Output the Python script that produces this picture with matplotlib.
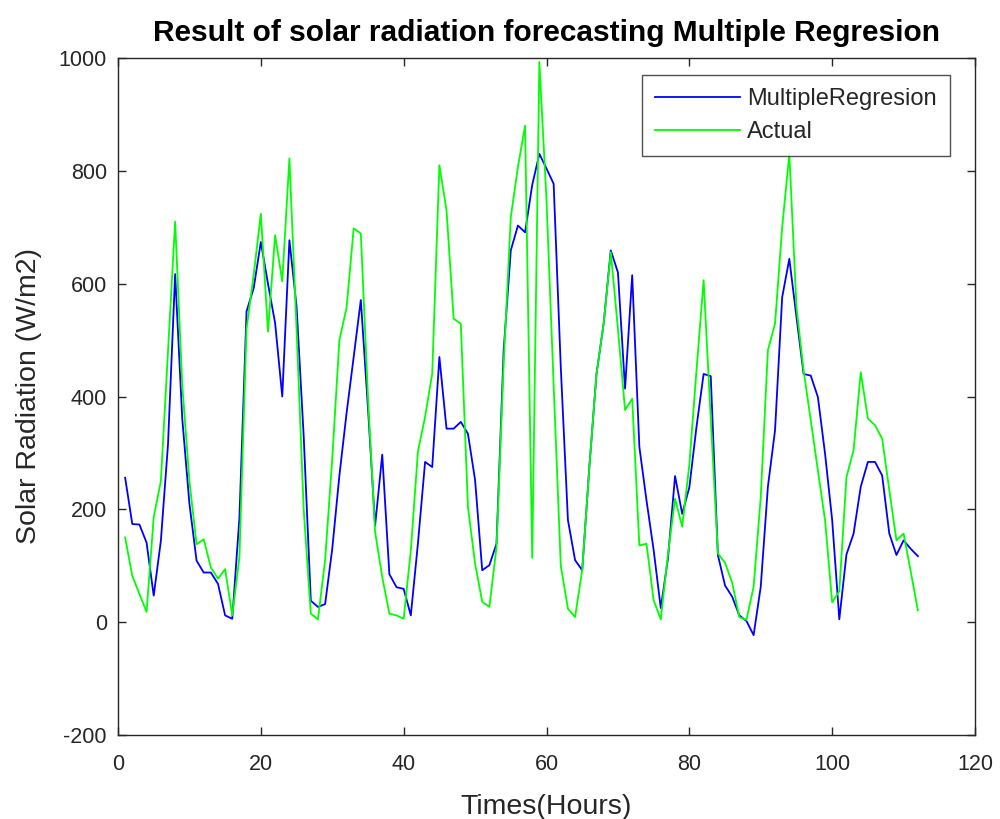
import numpy as np
import matplotlib
matplotlib.use("Agg")
import matplotlib.pyplot as plt

hours = list(range(1, 113))

multiple_regresion = [
    256, 174, 173, 141, 47, 144, 315, 617, 360, 210,
    109, 88, 88, 68, 12, 6, 185, 551, 592, 674,
    600, 530, 400, 677, 560, 330, 38, 27, 32, 130,
    260, 370, 470, 571, 380, 171, 297, 85, 62, 59,
    12, 140, 284, 275, 470, 343, 343, 355, 334, 252,
    92, 101, 139, 482, 659, 703, 691, 775, 830, 804,
    777, 452, 181, 110, 92, 275, 440, 529, 659, 620,
    414, 615, 311, 216, 128, 25, 112, 259, 192, 239,
    346, 440, 436, 119, 65, 45, 12, 2, -23, 63,
    240, 340, 576, 644, 541, 440, 437, 399, 299, 181,
    5, 120, 157, 240, 284, 284, 260, 157, 119, 145,
    130, 117,
]

actual = [
    150, 82, 50, 18, 186, 250, 480, 710, 420, 250,
    138, 147, 97, 77, 94, 12, 115, 520, 616, 724,
    515, 686, 604, 822, 520, 200, 15, 5, 110, 290,
    500, 557, 698, 689, 400, 160, 80, 15, 12, 6,
    127, 303, 364, 441, 810, 730, 538, 529, 204, 104,
    36, 27, 133, 458, 718, 807, 880, 114, 993, 748,
    420, 100, 24, 9, 92, 275, 440, 529, 656, 520,
    376, 396, 136, 139, 39, 5, 120, 219, 169, 279,
    446, 606, 360, 122, 105, 70, 9, 4, 63, 222,
    482, 529, 700, 830, 559, 446, 358, 269, 181, 35,
    55, 257, 305, 443, 361, 349, 325, 234, 145, 157,
    90, 21,
]

xticks = [0, 20, 40, 60, 80, 100, 120]
yticks = [-200, 0, 200, 400, 600, 800, 1000]

plt.rcParams['font.family'] = ['Liberation Sans', 'DejaVu Sans']
plt.rcParams['axes.unicode_minus'] = False

fig = plt.figure(figsize=(10.0, 8.19), dpi=100)
ax = fig.add_axes([118 / 1000, (819 - 735) / 819, 857 / 1000, 677 / 819])

ax.plot(hours, multiple_regresion, color=(0, 0, 1), lw=1.3, label='MultipleRegresion')
ax.plot(hours, actual, color=(0, 1, 0), lw=1.3, label='Actual')

ax.set_xlim(0, 120)
ax.set_ylim(-200, 1000)
ax.set_xticks(xticks)
ax.set_yticks(yticks)
ax.tick_params(direction='in', top=True, right=True, length=6, width=1,
               labelsize=15.5, colors='#262626')
ax.tick_params(axis='x', pad=14)
ax.tick_params(axis='y', pad=8)
for s in ax.spines.values():
    s.set_color('#262626')
    s.set_linewidth(1)

ax.set_title('Result of solar radiation forecasting Multiple Regresion',
             fontsize=21.5, fontweight='bold', color='black', pad=12)
ax.set_xlabel('Times(Hours)', fontsize=20.5, color='#262626', labelpad=13)
ax.set_ylabel('Solar Radiation (W/m2)', fontsize=20.5, color='#262626', labelpad=12)

leg = ax.legend(loc='upper right', bbox_to_anchor=(950 / 1000, (819 - 75) / 819),
                bbox_transform=fig.transFigure, fontsize=17, handlelength=3.6,
                frameon=True, fancybox=False, borderpad=0.55, labelspacing=0.48,
                handletextpad=0.3, borderaxespad=0)
leg.get_frame().set_edgecolor('#262626')
leg.get_frame().set_linewidth(1)
for t in leg.get_texts():
    t.set_color('#262626')

fig.savefig('out.png', dpi=100)
